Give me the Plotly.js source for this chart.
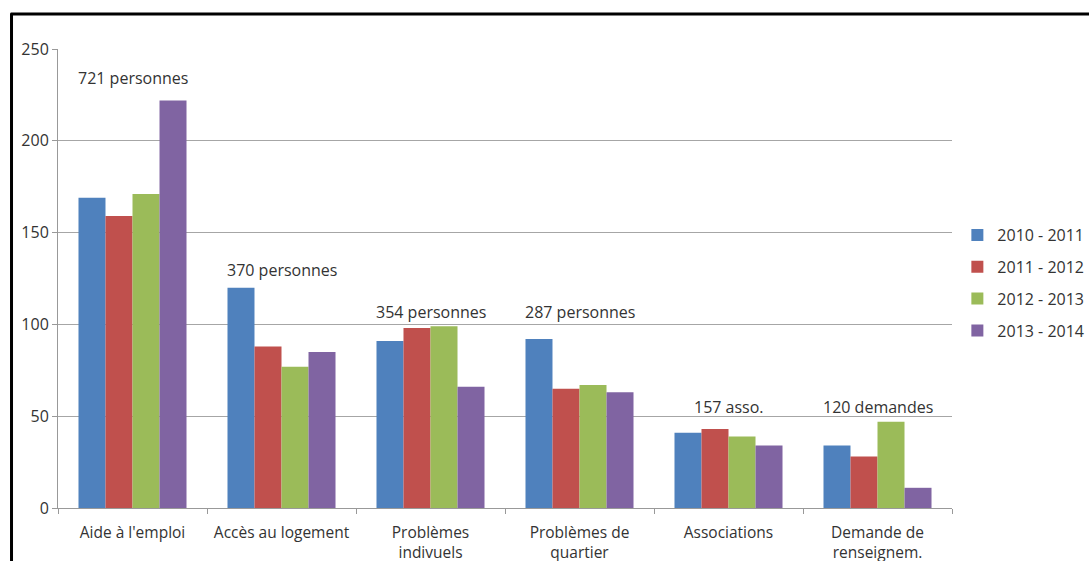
<!DOCTYPE html>
<html><head><meta charset="utf-8">
<script src="https://cdn.plot.ly/plotly-3.0.1.min.js"></script>
<style>html,body{margin:0;padding:0;background:#fff}#c{width:1089px;height:561px}</style>
</head><body><div id="c"></div>
<script>
const categories = ["Aide à l'emploi", "Accès au logement", "Problèmes<br>indivuels", "Problèmes de<br>quartier", "Associations", "Demande de<br>renseignem."];
const seriesNames = ["2010 - 2011", "2011 - 2012", "2012 - 2013", "2013 - 2014"];
const s2010 = [169, 120, 91, 92, 41, 34];
const s2011 = [159, 88, 98, 65, 43, 28];
const s2012 = [171, 77, 99, 67, 39, 47];
const s2013 = [222, 85, 66, 63, 34, 11];
const totals = ["721 personnes", "370 personnes", "354 personnes", "287 personnes", "157 asso.", "120 demandes"];
const totalY = [234, 129.5, 107, 107, 55, 55];
const colors = ["#4f81bd", "#c0504d", "#9bbb59", "#8064a2"];

const allSeries = [s2010, s2011, s2012, s2013];
const traces = allSeries.map((vals, i) => ({
  type: 'bar', x: categories, y: vals, name: seriesNames[i],
  marker: {color: colors[i]}, legendgroup: 'g' + i
}));

const FONT = 'Open Sans, Liberation Sans, sans-serif';
const annotations = categories.map((c, i) => ({
  x: c, y: totalY[i], xref: 'x', yref: 'y', text: totals[i], showarrow: false,
  font: {family: FONT, size: 16, color: '#333'}
}));

const layout = {
  width: 1089, height: 561,
  margin: {l: 58, r: 137, t: 49, b: 53, autoexpand: false},
  paper_bgcolor: '#fff', plot_bgcolor: '#fff',
  barmode: 'group', bargap: 0.275, bargroupgap: 0,
  font: {family: FONT, size: 16, color: '#333'},
  xaxis: {
    type: 'category', showline: true, linecolor: '#999', linewidth: 1,
    ticks: 'outside', tickson: 'boundaries', ticklen: 5, tickcolor: '#999',
    showgrid: false, tickfont: {size: 15.5, color: '#333'}, automargin: false,
    ticklabelstandoff: 10, tickangle: 0
  },
  yaxis: {
    range: [0, 250], dtick: 50, showline: true, linecolor: '#999', linewidth: 1,
    ticks: 'outside', ticklen: 5, tickcolor: '#999',
    showgrid: true, gridcolor: '#a6a6a6', gridwidth: 1, zeroline: false,
    tickfont: {size: 16, color: '#333'}, automargin: false
  },
  legend: {
    x: 1.006, xanchor: 'left', y: 0.49, yanchor: 'middle',
    font: {size: 16, color: '#333'}, tracegroupgap: 8, traceorder: 'grouped'
  },
  annotations: annotations,
  shapes: [
    {type: 'line', xref: 'paper', yref: 'paper', x0: -0.053, x1: 1.2, y0: 1.076, y1: 1.076, line: {color: '#000', width: 3}},
    {type: 'line', xref: 'paper', yref: 'paper', x0: -0.052, x1: -0.052, y0: -0.12, y1: 1.078, line: {color: '#000', width: 3}}
  ],
  showlegend: true
};

Plotly.newPlot('c', traces, layout, {displayModeBar: false, staticPlot: true});
</script>
</body></html>
